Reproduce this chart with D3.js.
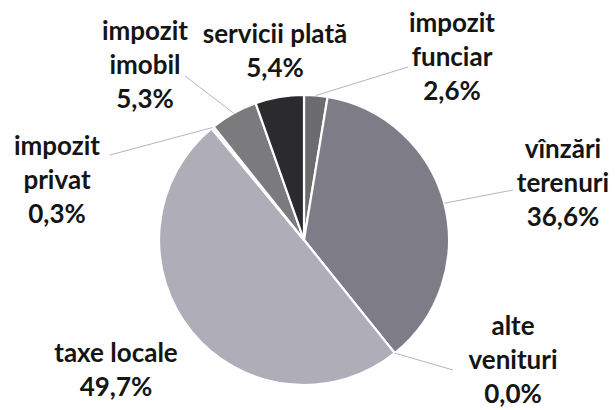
<!DOCTYPE html>
<html>
<head>
<meta charset="utf-8">
<script src="https://cdn.jsdelivr.net/npm/d3@7"></script>
<style>
  body { margin: 0; background: #fff; }
  #chart { width: 615px; height: 410px; }
</style>
</head>
<body>
<div id="chart"></div>
<script>
// data, clockwise from 12 o'clock
const categories = ["impozit funciar", "vînzări terenuri", "alte venituri", "taxe locale",
                    "impozit privat", "impozit imobil", "servicii plată"];
const labelLines = [["impozit", "funciar"], ["vînzări", "terenuri"], ["alte", "venituri"],
                    ["taxe locale"], ["impozit", "privat"], ["impozit", "imobil"], ["servicii plată"]];
const values = [2.6, 36.6, 0.0, 49.7, 0.3, 5.3, 5.4];
const valueLabels = ["2,6%", "36,6%", "0,0%", "49,7%", "0,3%", "5,3%", "5,4%"];

const colors = ["#6c6c6e", "#7e7c87", "#9a9aa0", "#afaeb8", "#d4d4d8", "#7b7b7e", "#2b2b2e"];

// layout: label block centre x, first baseline y, and leader end (null = no leader)
const labelLayout = [
  {x: 452, y: 32, end: [408, 67]},
  {x: 563, y: 158, end: [513, 190]},
  {x: 513, y: 335, end: [453, 370]},
  {x: 116, y: 362, end: null},
  {x: 57, y: 155, end: [110, 155]},
  {x: 145, y: 40, end: [185, 76]},
  {x: 275, y: 43, end: null}
];

const width = 615, height = 410;
const cx = 304, cy = 240, radius = 145;
const lineStep = 34;

const svg = d3.select("#chart")
  .append("svg")
  .attr("width", width)
  .attr("height", height);

const pie = d3.pie().sort(null).value(d => d);
const arcs = pie(values);

const arc = d3.arc().innerRadius(0).outerRadius(radius);

const g = svg.append("g")
  .attr("transform", "translate(" + cx + "," + cy + ")");

g.selectAll("path.slice")
  .data(arcs)
  .join("path")
  .attr("class", "slice")
  .attr("d", arc)
  .style("fill", (d, i) => colors[i])
  .style("stroke", "#fff")
  .style("stroke-width", 2.2)
  .style("stroke-linejoin", "round");

// leader lines from the slice's mid angle on the rim
arcs.forEach(function (d, i) {
  const L = labelLayout[i];
  if (!L.end) return;
  const a = (d.startAngle + d.endAngle) / 2;
  const x0 = cx + radius * Math.sin(a);
  const y0 = cy - radius * Math.cos(a);
  svg.append("line")
    .attr("x1", x0).attr("y1", y0)
    .attr("x2", L.end[0]).attr("y2", L.end[1])
    .style("stroke", "#b4b4c4")
    .style("stroke-width", 1);
});

// labels
arcs.forEach(function (d, i) {
  const L = labelLayout[i];
  const lines = labelLines[i].concat([valueLabels[i]]);
  const t = svg.append("text")
    .attr("text-anchor", "middle")
    .style("font-family", "Lato, 'Open Sans', sans-serif")
    .style("font-weight", 700)
    .style("font-size", "26px")
    .style("fill", "#151515");
  lines.forEach(function (s, k) {
    t.append("tspan")
      .attr("x", L.x)
      .attr("y", L.y + k * lineStep)
      .text(s);
  });
});
</script>
</body>
</html>
